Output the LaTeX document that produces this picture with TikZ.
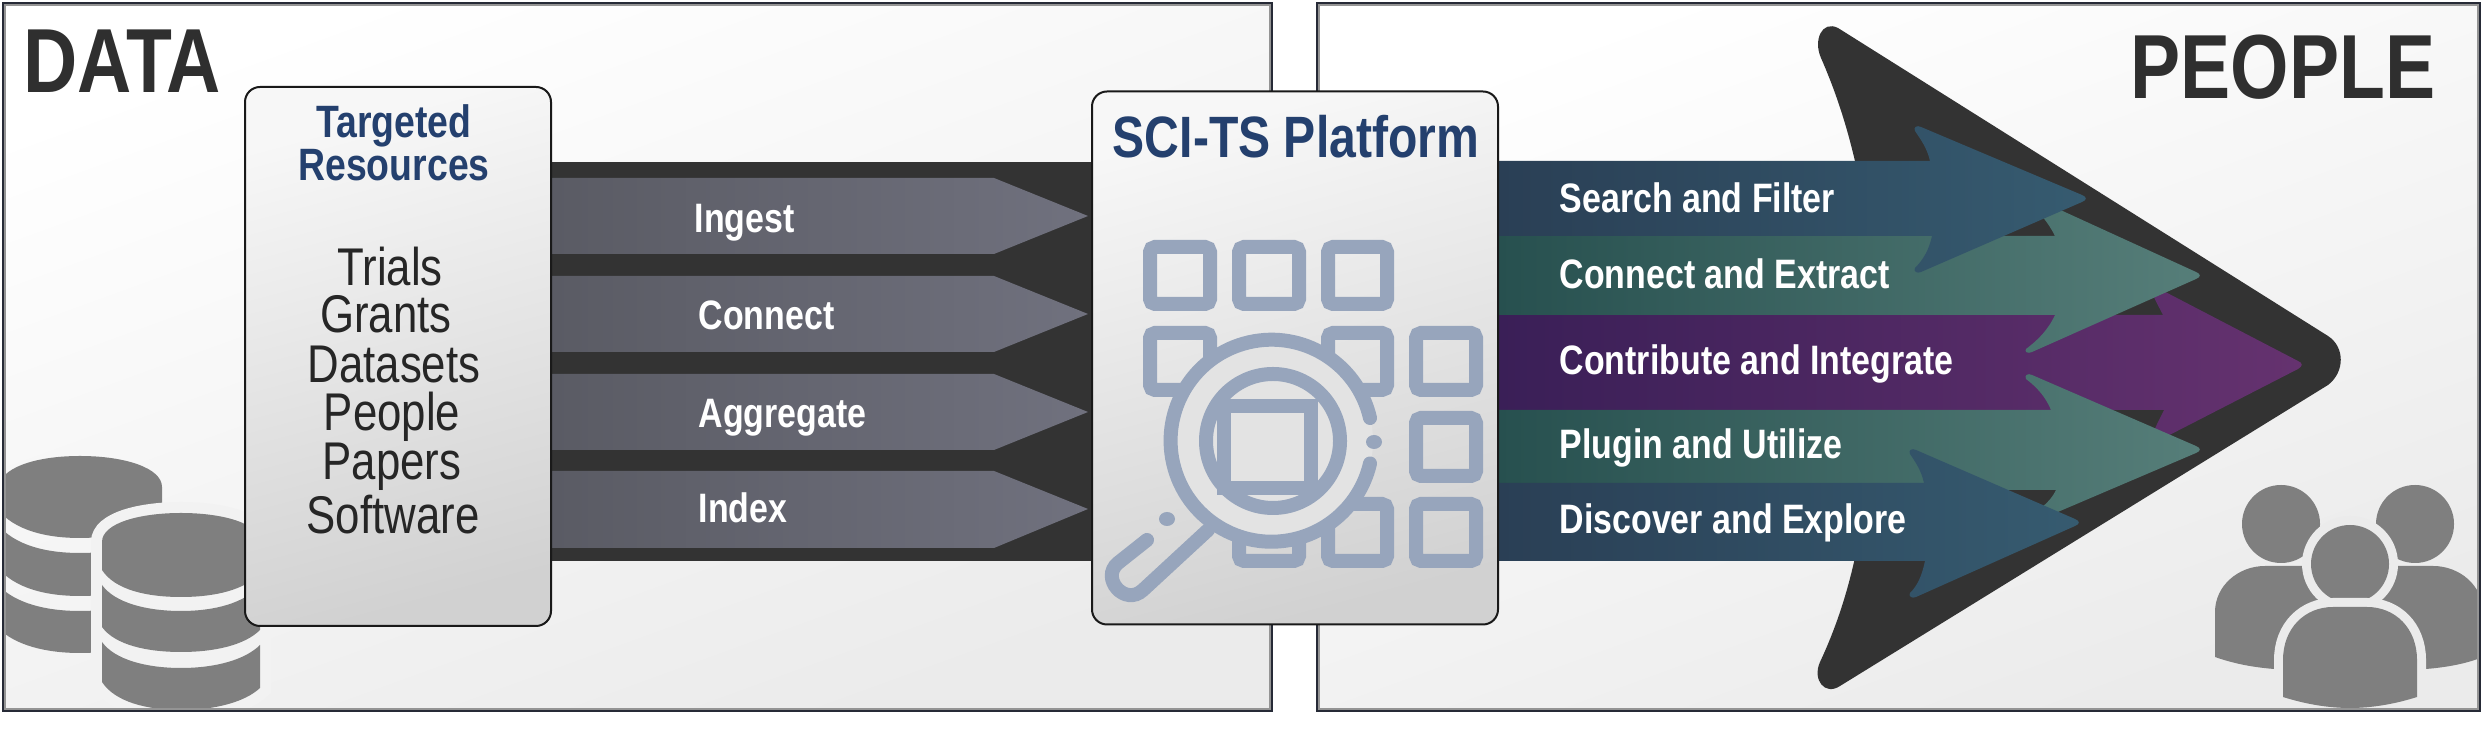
\documentclass[tikz,border=0pt]{standalone}
\usepackage{fontspec}
\setmainfont[FakeStretch=0.825]{Liberation Sans}

\begin{document}
\begin{tikzpicture}[x=0.1mm, y=-0.1mm]

  % Define Colors
  \definecolor{ink}{HTML}{2F2F2F}
  \definecolor{titleblue}{HTML}{24406E}
  \definecolor{icongrey}{HTML}{7F7F7F}
  \definecolor{iconblue}{HTML}{97A5BC}
  \definecolor{banddark}{HTML}{333333}
  \definecolor{frameline}{HTML}{262A36}
  \definecolor{bluel}{HTML}{2A3F55}
  \definecolor{bluer}{HTML}{365B70}
  \definecolor{teall}{HTML}{27504F}
  \definecolor{tealr}{HTML}{567E79}
  \definecolor{purpl}{HTML}{3A1F57}
  \definecolor{purpr}{HTML}{65326F}
  \definecolor{greyl}{HTML}{5A5B64}
  \definecolor{greyr}{HTML}{70717E}

  % Styles
  \tikzstyle{panel_fill}=[top color=white, bottom color=black!8, shading angle=20]
  \tikzstyle{panel_line}=[draw=frameline, line width=0.28mm]
  \tikzstyle{panel_edge}=[draw=black!42, line width=0.16mm]
  \tikzstyle{card}=[draw=black!90, line width=0.2mm, rounded corners=1.5mm, top color=black!3, bottom color=black!18, shading angle=15, inner sep=0pt]
  \tikzstyle{grey_arrow}=[left color=greyl, right color=greyr]
  \tikzstyle{blue_arrow}=[left color=bluel, right color=bluer]
  \tikzstyle{teal_arrow}=[left color=teall, right color=tealr]
  \tikzstyle{purple_arrow}=[left color=purpl, right color=purpr]
  \tikzstyle{head_text}=[inner sep=0pt, text=ink, font=\bfseries\fontsize{25.9pt}{30pt}\selectfont]
  \tikzstyle{title_text}=[inner sep=0pt, text=titleblue, font=\bfseries\fontsize{12.9pt}{15pt}\selectfont]
  \tikzstyle{item_text}=[inner sep=0pt, text=black!85, font=\fontsize{15.1pt}{17pt}\selectfont]
  \tikzstyle{step_text}=[inner sep=0pt, text=white, font=\bfseries\fontsize{11.7pt}{14pt}\selectfont]
  \tikzstyle{sqr}=[draw=iconblue, line width=1.4mm, rounded corners=0.5mm]
  \tikzstyle{ring}=[draw=iconblue, line width=1.4mm, line cap=round]

  \useasboundingbox (0,0) rectangle (2483,731);

  % Panels
  \shade[panel_fill] (3,3) rectangle (1272,711);
  \shade[panel_fill] (1317,3) rectangle (2480,711);

  \begin{scope}
    \clip (3,3) rectangle (1272,711);
    % Back database
    \fill[icongrey] (-2,490) .. controls (-2,468) and (35,456) .. (80,456) .. controls (125,456) and (162,468) .. (162,487) -- (162,510) .. controls (150,528) and (115,538) .. (80,538) .. controls (45,538) and (15,530) .. (-2,510) -- cycle;
    \fill[icongrey] (-2,525) .. controls (15,545) and (45,553) .. (80,553) .. controls (115,553) and (150,545) .. (162,528) -- (162,572) .. controls (150,588) and (115,596) .. (80,596) .. controls (45,596) and (15,588) .. (-2,568) -- cycle;
    \fill[icongrey] (-2,585) .. controls (15,603) and (45,611) .. (80,611) .. controls (115,611) and (150,603) .. (162,590) -- (162,630) .. controls (150,645) and (115,653) .. (80,653) .. controls (45,653) and (15,645) .. (-2,628) -- cycle;
    % Front database
    \path[fill=black!5, draw=black!5, line width=2.2mm] (102,542) .. controls (102,523) and (140,513) .. (181,513) .. controls (222,513) and (260,523) .. (260,542) -- (260,688) .. controls (245,702) and (215,710) .. (181,710) .. controls (147,710) and (115,702) .. (102,682) -- cycle;
    \fill[icongrey] (102,542) .. controls (102,523) and (140,513) .. (181,513) .. controls (222,513) and (260,523) .. (260,542) -- (260,573) .. controls (245,590) and (215,597) .. (181,597) .. controls (147,597) and (115,590) .. (102,570) -- cycle;
    \fill[icongrey] (102,585) .. controls (115,603) and (147,611) .. (181,611) .. controls (215,611) and (245,603) .. (260,585) -- (260,630) .. controls (245,645) and (215,652) .. (181,652) .. controls (147,652) and (115,645) .. (102,627) -- cycle;
    \fill[icongrey] (102,642) .. controls (115,660) and (147,668) .. (181,668) .. controls (215,668) and (245,660) .. (260,645) -- (260,688) .. controls (245,702) and (215,710) .. (181,710) .. controls (147,710) and (115,702) .. (102,682) -- cycle;
  \end{scope}

  % People
  \begin{scope}
    \clip (1317,3) rectangle (2480,711);
    \fill[icongrey] (2281,524) circle (39);
    \fill[icongrey] (2415,524) circle (39);
    \fill[icongrey] (2215,657) -- (2215,612) .. controls (2215,586) and (2238,566) .. (2265,566) -- (2330,566) -- (2330,680) -- (2274,669) .. controls (2250,667) and (2232,663) .. (2215,657) -- cycle;
    \fill[icongrey] (2483,657) -- (2483,612) .. controls (2483,586) and (2460,566) .. (2433,566) -- (2368,566) -- (2368,680) -- (2426,669) .. controls (2450,667) and (2468,663) .. (2483,657) -- cycle;
    \fill[black!8] (2350,564) circle (48);
    \fill[icongrey] (2350,564) circle (39);
    \path[fill=black!8, draw=black!8, line width=1.8mm] (2283,711) -- (2283,660) .. controls (2283,628) and (2305,607) .. (2333,607) -- (2367,607) .. controls (2395,607) and (2417,628) .. (2417,660) -- (2417,711) -- cycle;
    \fill[icongrey] (2283,697) -- (2283,660) .. controls (2283,628) and (2305,607) .. (2333,607) -- (2367,607) .. controls (2395,607) and (2417,628) .. (2417,660) -- (2417,697) .. controls (2395,704) and (2372,708) .. (2350,708) .. controls (2328,708) and (2305,704) .. (2283,697) -- cycle;
  \end{scope}

  % Panel frames
  \draw[panel_edge] (5,5) rectangle (1270,709);
  \draw[panel_edge] (1319,5) rectangle (2478,709);
  \draw[panel_line] (3,3) rectangle (1272,711);
  \draw[panel_line] (1317,3) rectangle (2480,711);

  % Left band and grey arrows
  \fill[banddark] (551,162) rectangle (1092,561);
  \shade[grey_arrow] (551,178) -- (994,178) -- (1088,216) -- (994,254) -- (551,254) -- cycle;
  \shade[grey_arrow] (551,276) -- (994,276) -- (1088,314) -- (994,352) -- (551,352) -- cycle;
  \shade[grey_arrow] (551,374) -- (994,374) -- (1088,412) -- (994,450) -- (551,450) -- cycle;
  \shade[grey_arrow] (551,471) -- (994,471) -- (1088,509) -- (994,548) -- (551,548) -- cycle;

  % Big dark arrow
  \fill[banddark] (1857,170) .. controls (1847,125) and (1835,90) .. (1821,58) .. controls (1813,40) and (1822,20) .. (1838,28) -- (2328,336) .. controls (2345,347) and (2345,372) .. (2328,385) -- (1840,686) .. controls (1825,696) and (1812,680) .. (1820,662) .. controls (1835,630) and (1847,595) .. (1856,553) -- cycle;

  % Colored arrows
  \shade[purple_arrow] (1498,315) -- (2163,315) .. controls (2158,305) and (2152,296) .. (2150,284) -- (2298,361) .. controls (2303,363) and (2303,366) .. (2298,369) -- (2150,445) .. controls (2152,433) and (2158,422) .. (2164,410) -- (1498,410) -- cycle;
  \shade[teal_arrow] (1498,236) -- (2055,236) .. controls (2048,222) and (2038,210) .. (2026,201) .. controls (2024,197) and (2028,195) .. (2032,197) -- (2196,272) .. controls (2201,274) and (2201,277) .. (2196,279) -- (2032,352) .. controls (2028,354) and (2024,352) .. (2026,349) .. controls (2038,340) and (2048,330) .. (2055,315) -- (1498,315) -- cycle;
  \shade[teal_arrow] (1498,410) -- (2051,410) .. controls (2046,398) and (2038,388) .. (2026,379) .. controls (2024,375) and (2028,373) .. (2032,375) -- (2196,446) .. controls (2201,448) and (2201,451) .. (2196,453) -- (2032,523) .. controls (2028,525) and (2024,523) .. (2026,520) .. controls (2038,510) and (2050,503) .. (2056,490) -- (1498,490) -- cycle;
  \shade[blue_arrow] (1498,161) -- (1930,161) .. controls (1927,148) and (1921,140) .. (1915,131) .. controls (1913,127) and (1917,125) .. (1921,127) -- (2082,195) .. controls (2087,197) and (2087,200) .. (2082,202) -- (1921,272) .. controls (1917,274) and (1913,271) .. (1915,268) .. controls (1923,260) and (1929,250) .. (1932,236) -- (1498,236) -- cycle;
  \shade[blue_arrow] (1498,483) -- (1924,483) .. controls (1921,470) and (1916,463) .. (1910,454) .. controls (1908,450) and (1912,448) .. (1916,450) -- (2075,519) .. controls (2080,521) and (2080,524) .. (2075,526) -- (1916,597) .. controls (1912,599) and (1908,596) .. (1910,593) .. controls (1918,585) and (1922,575) .. (1925,561) -- (1498,561) -- cycle;

  % Cards
  \node[card, minimum width=30.6mm, minimum height=53.9mm] (n_res) at (398,356.5) {};
  \node[card, minimum width=40.6mm, minimum height=53.3mm] (n_plat) at (1295,358) {};

  % Platform icon, squares
  \draw[sqr] (1150,247) rectangle (1210,304);
  \draw[sqr] (1239,247) rectangle (1299,304);
  \draw[sqr] (1328,247) rectangle (1387,304);
  \draw[sqr] (1150,333) rectangle (1210,390);
  \draw[sqr] (1328,333) rectangle (1387,390);
  \draw[sqr] (1416,333) rectangle (1476,390);
  \draw[sqr] (1416,418) rectangle (1476,476);
  \draw[sqr] (1239,504) rectangle (1299,561);
  \draw[sqr] (1328,504) rectangle (1387,561);
  \draw[sqr] (1416,504) rectangle (1476,561);

  % Platform icon, lens
  \fill[black!11] (1272,441) circle (101);
  \draw[ring] (1370,418) arc[start angle=-13, end angle=-347, radius=101];
  \draw[ring] (1273,441) circle (67);
  \draw[sqr, rounded corners=0pt] (1224,406) rectangle (1311,488);
  \fill[iconblue] (1374,442) ellipse (8 and 7);
  \fill[iconblue] (1167,519) ellipse (8 and 7);
  \draw[ring] (1147,540) -- (1118,563) .. controls (1100,578) and (1125,607) .. (1143,590) -- (1208,530);

  % Panel titles
  \node[head_text, anchor=base west] (t_data) at (23,93) {DATA};
  \node[head_text, anchor=base east] (t_people) at (2436,99) {PEOPLE};

  % Card text
  \node[title_text, anchor=base] (t_res1) at (394,138) {Targeted};
  \node[title_text, anchor=base] (t_res2) at (394,181) {Resources};
  \node[item_text, anchor=base] (i_trials) at (390,286) {Trials};
  \node[item_text, anchor=base] (i_grants) at (386,333) {Grants};
  \node[item_text, anchor=base] (i_data) at (394,383) {Datasets};
  \node[item_text, anchor=base] (i_people) at (392,431) {People};
  \node[item_text, anchor=base] (i_papers) at (392,480) {Papers};
  \node[item_text, anchor=base] (i_soft) at (393,534) {Software};
  \node[title_text, anchor=base, font=\bfseries\fontsize{16.6pt}{20pt}\selectfont] (t_plat) at (1296,158) {SCI-TS Platform};

  % Step labels
  \node[step_text, anchor=base west] (s_ingest) at (694,233) {Ingest};
  \node[step_text, anchor=base west] (s_connect) at (698,330) {Connect};
  \node[step_text, anchor=base west] (s_aggr) at (698,428) {Aggregate};
  \node[step_text, anchor=base west] (s_index) at (698,523) {Index};

  % Use labels
  \node[step_text, anchor=base west] (u_search) at (1559,213) {Search and Filter};
  \node[step_text, anchor=base west] (u_connect) at (1559,289) {Connect and Extract};
  \node[step_text, anchor=base west] (u_contrib) at (1559,375) {Contribute and Integrate};
  \node[step_text, anchor=base west] (u_plugin) at (1559,459) {Plugin and Utilize};
  \node[step_text, anchor=base west] (u_discover) at (1559,534) {Discover and Explore};

\end{tikzpicture}
\end{document}
